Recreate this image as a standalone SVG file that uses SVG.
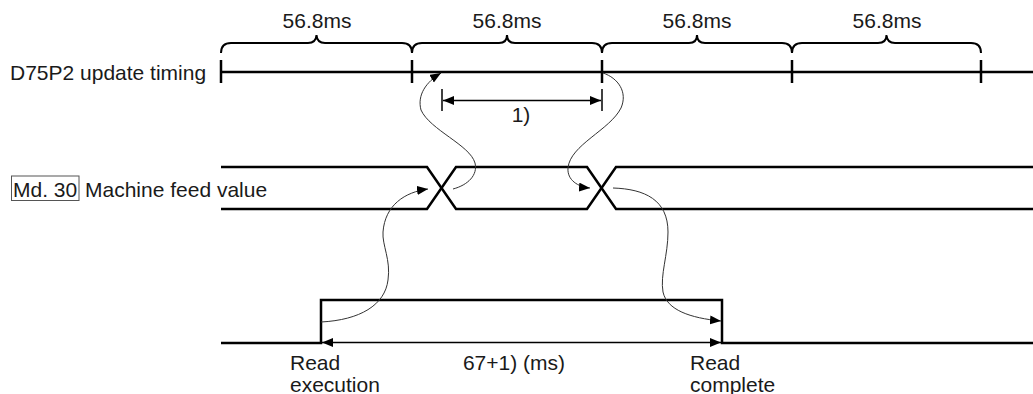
<svg xmlns="http://www.w3.org/2000/svg" width="1033" height="394" viewBox="0 0 1033 394">
<style>
.t{font-family:"Liberation Sans",Arial,sans-serif;font-size:21px;fill:#1a1a1a}
.m{text-anchor:middle}
.thick{fill:none;stroke:#000;stroke-width:2.5}
.br{fill:none;stroke:#000;stroke-width:2}
.dim{fill:none;stroke:#000;stroke-width:1.5}
.cv{fill:none;stroke:#333;stroke-width:1}
</style>
<defs>
<marker id="ah" markerUnits="userSpaceOnUse" markerWidth="12" markerHeight="10" refX="11" refY="4.5" orient="auto-start-reverse" viewBox="0 0 12 10">
<path d="M0,0 L11,4.5 L0,9 z" fill="#000"/>
</marker>
</defs>
<rect width="1033" height="394" fill="#fff"/>

<g id="timing">
<text class="t" x="10" y="80">D75P2 update timing</text>
<line class="thick" x1="221" y1="72" x2="1033" y2="72"/>
<line class="thick" x1="221" y1="60" x2="221" y2="83"/>
<line class="thick" x1="412" y1="60" x2="412" y2="83"/>
<line class="thick" x1="602" y1="60" x2="602" y2="83"/>
<line class="thick" x1="792" y1="60" x2="792" y2="83"/>
<line class="thick" x1="981" y1="60" x2="981" y2="83"/>
</g>

<g id="braces">
<path class="br" d="M221,53 Q221,43 231,43 L308,43 Q316,43 316.5,35 Q317,43 325,43 L402,43 Q412,43 412,53"/>
<path class="br" d="M412,53 Q412,43 422,43 L499,43 Q507,43 507,35 Q507,43 515,43 L592,43 Q602,43 602,53"/>
<path class="br" d="M602,53 Q602,43 612,43 L689,43 Q697,43 697,35 Q697,43 705,43 L782,43 Q792,43 792,53"/>
<path class="br" d="M792,53 Q792,43 802,43 L878,43 Q886.5,43 886.5,35 Q887,43 895,43 L971,43 Q981,43 981,53"/>
<text class="t m" x="317" y="28">56.8ms</text>
<text class="t m" x="507" y="28">56.8ms</text>
<text class="t m" x="697" y="28">56.8ms</text>
<text class="t m" x="887" y="28">56.8ms</text>
</g>

<g id="dim1">
<line class="dim" x1="442" y1="89" x2="442" y2="111"/>
<line class="dim" x1="602" y1="89" x2="602" y2="111"/>
<line class="dim" x1="443" y1="100.5" x2="601" y2="100.5" marker-start="url(#ah)" marker-end="url(#ah)"/>
<text class="t m" x="521" y="122">1)</text>
</g>

<g id="feed">
<rect x="11.5" y="176" width="67.5" height="24.5" fill="none" stroke="#555" stroke-width="1"/>
<text class="t" x="13" y="197">Md. 30</text>
<text class="t" x="85" y="197">Machine feed value</text>
<path class="thick" d="M221,167 L427,167 L456,209 L587,209 L616,167 L1033,167"/>
<path class="thick" d="M221,209 L427,209 L456,167 L587,167 L616,209 L1033,209"/>
</g>

<g id="pulse">
<path class="thick" d="M221,343 L321,343 L321,300 L722,300 L722,343 L1033,343"/>
<text class="t" x="290" y="370">Read</text>
<text class="t" x="290" y="392">execution</text>
<text class="t" x="690" y="370">Read</text>
<text class="t" x="690" y="392">complete</text>
</g>

<g id="dim2">
<line class="dim" x1="322" y1="342.5" x2="721" y2="342.5" marker-start="url(#ah)" marker-end="url(#ah)"/>
<text class="t m" x="514" y="370">67+1) (ms)</text>
</g>

<g id="connectors">
<path class="cv" d="M321,322 C360,320 385,305 388,280 C391,260 382,245 383,232 C385,205 405,192 428,189" marker-end="url(#ah)"/>
<path class="cv" d="M453,189 C468,185 478,175 475,163 C470,145 430,130 421,110 C417,95 426,82 441,73" marker-end="url(#ah)"/>
<path class="cv" d="M603,73 C618,78 628,92 621,108 C610,130 570,145 568,168 C567,180 578,187 590,188" marker-end="url(#ah)"/>
<path class="cv" d="M613,188 C645,189 668,200 668,232 C668,255 660,275 663,292 C667,310 690,318 721,321" marker-end="url(#ah)"/>
</g>
</svg>
